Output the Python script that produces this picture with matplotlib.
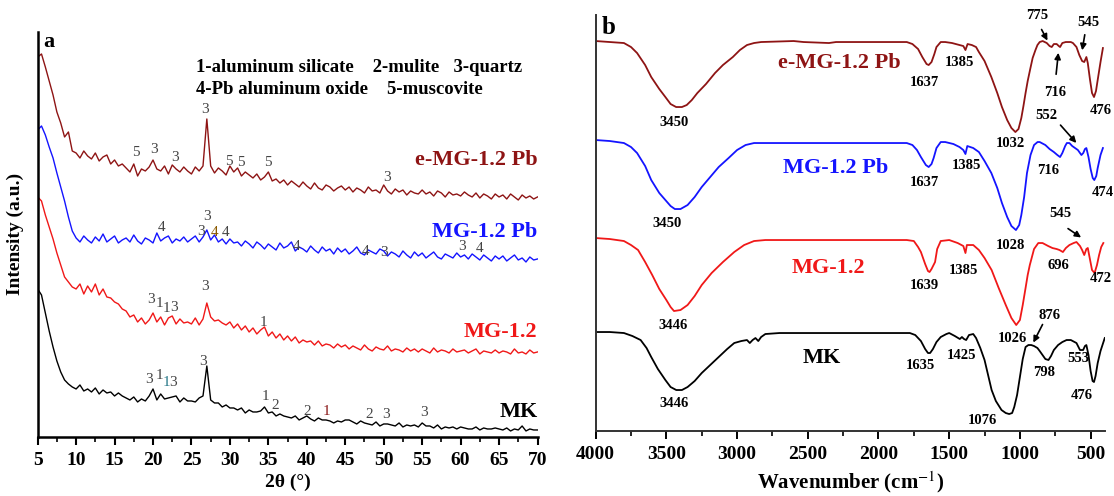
import numpy as np
import matplotlib
matplotlib.use('Agg')
import matplotlib.pyplot as plt

plt.rcParams['font.family'] = ['Liberation Serif', 'DejaVu Serif']
plt.rcParams['mathtext.fontset'] = 'stix'

# ---- XRD (panel a), 2theta from 5 to 70 in 0.5 deg steps ----
two_theta = np.arange(5.0, 70.01, 0.5)

xrd_emg = [380, 383, 370, 356, 342, 325, 314, 300, 305, 286,
           284, 279, 286, 281, 278, 284, 276, 280, 282, 273,
           277, 271, 273, 269, 265, 273, 261, 268, 266, 270,
           277, 268, 266, 271, 263, 272, 268, 265, 270, 266,
           263, 270, 266, 271, 318, 271, 264, 269, 266, 262,
           271, 265, 269, 261, 265, 262, 259, 263, 257, 260,
           265, 256, 258, 254, 257, 252, 256, 253, 250, 255,
           251, 248, 254, 249, 247, 252, 250, 246, 249, 251,
           247, 250, 245, 249, 247, 244, 250, 246, 247, 244,
           252, 246, 243, 248, 245, 247, 242, 246, 244, 243,
           247, 243, 245, 241, 246, 244, 240, 245, 242, 243,
           241, 245, 242, 240, 244, 239, 243, 241, 238, 243,
           240, 242, 238, 243, 240, 237, 242, 239, 241, 238,
           240]
xrd_mgpb = [307, 311, 302, 290, 279, 264, 250, 236, 220, 206,
            199, 195, 201, 197, 194, 200, 196, 203, 195, 198,
            201, 194, 197, 199, 195, 202, 196, 193, 199, 197,
            194, 204, 196, 199, 201, 194, 198, 196, 200, 195,
            198, 201, 195, 200, 207, 197, 202, 195, 198, 193,
            198, 194, 195, 191, 196, 193, 189, 195, 192, 188,
            193, 190, 187, 194, 189, 191, 195, 186, 190, 188,
            185, 191, 187, 184, 190, 186, 188, 183, 189, 185,
            188, 183, 186, 190, 184, 182, 187, 185, 183, 188,
            186, 181, 185, 183, 180, 186, 182, 179, 185, 181,
            184, 179, 182, 185, 180, 178, 183, 181, 179, 184,
            180, 182, 178, 183, 180, 177, 182, 179, 176, 181,
            178, 181, 176, 179, 182, 177, 179, 175, 180, 177,
            178]
xrd_mg = [240, 236, 222, 210, 198, 184, 172, 160, 155, 150,
          148, 153, 143, 151, 145, 153, 142, 148, 140, 139,
          135, 133, 128, 126, 120, 122, 115, 119, 113, 117,
          124, 115, 120, 112, 119, 121, 113, 118, 114, 115,
          113, 119, 112, 118, 134, 120, 116, 117, 114, 112,
          115, 109, 113, 107, 111, 105, 109, 103, 107, 110,
          101, 105, 99, 103, 97, 101, 96, 100, 94, 97,
          95, 96, 92, 96, 91, 93, 92, 89, 93, 90,
          92, 88, 91, 89, 87, 92, 88, 86, 90, 88,
          87, 91, 86, 88, 87, 85, 89, 86, 88, 85,
          88, 86, 84, 89, 85, 87, 86, 84, 88, 85,
          86, 87, 84, 86, 88, 83, 86, 85, 84, 87,
          84, 86, 85, 83, 88, 84, 85, 83, 87, 84,
          85]
xrd_mk = [148, 142, 124, 106, 90, 76, 65, 57, 53, 50,
          48, 52, 46, 48, 45, 49, 43, 47, 44, 45,
          41, 44, 41, 39, 37, 40, 35, 38, 36, 41,
          48, 37, 43, 38, 39, 40, 41, 35, 39, 36,
          36, 35, 39, 41, 71, 37, 34, 34, 30, 32,
          29, 29, 27, 29, 24, 27, 25, 25, 26, 30,
          24, 25, 21, 23, 21, 20, 19, 21, 17, 19,
          21, 18, 16, 19, 17, 17, 16, 14, 16, 15,
          17, 17, 15, 13, 16, 14, 13, 12, 15, 11,
          13, 13, 12, 11, 14, 10, 12, 11, 12, 10,
          14, 11, 11, 9, 12, 8, 10, 9, 10, 8,
          10, 9, 8, 8, 10, 7, 9, 8, 8, 9,
          8, 7, 9, 6, 8, 7, 11, 6, 8, 7,
          7]

xrd_names = ['e-MG-1.2 Pb', 'MG-1.2 Pb', 'MG-1.2', 'MK']
xrd_name_y = [277, 205, 105, 25]

# phase marks: (2theta, height, mark, colour)
grey = '#444444'
xrd_marks = [
    (17.8, 284, '5', grey), (20.1, 287, '3', grey), (22.9, 279, '3', grey),
    (26.8, 327, '3', grey), (29.9, 275, '5', grey), (31.4, 274, '5', grey),
    (34.9, 274, '5', grey), (50.4, 259, '3', grey),
    (21.1, 209, '4', grey), (26.2, 205, '3', grey), (27.0, 220, '3', grey),
    (28.0, 204, '4', '#8b5a00'), (29.5, 204, '4', grey), (38.7, 190, '4', grey),
    (47.7, 185, '4', grey), (50.1, 184, '3', grey), (60.2, 190, '3', grey),
    (62.5, 188, '4', grey),
    (19.7, 137, '3', grey), (20.85, 133, '1', grey), (21.75, 128, '1', grey),
    (22.75, 129, '3', grey), (26.7, 150, '3', grey), (34.4, 114, '1', grey),
    (19.5, 57, '3', grey), (20.8, 61, '1', grey), (21.7, 54, '1', '#2a7a8a'),
    (22.65, 54, '3', grey), (26.5, 75, '3', grey), (34.6, 40, '1', grey),
    (35.9, 31, '2', grey), (40.0, 25, '2', grey), (42.6, 25, '1', '#8b1a1a'),
    (48.1, 22, '2', grey), (50.3, 22, '3', grey), (55.2, 24, '3', grey),
]

# ---- FTIR (panel b) ----
wn_emg = [4000, 3900, 3800, 3750, 3707, 3650, 3607, 3550, 3507, 3470, 3431, 3390, 3356, 3320,
          3281, 3220, 3156, 3100, 3030, 2980, 2930, 2880, 2830, 2600, 2530, 2350, 2300, 2000,
          1800, 1760, 1720, 1690, 1660, 1645, 1625, 1605, 1590, 1560, 1528, 1480, 1427, 1400,
          1385, 1370, 1340, 1310, 1290, 1250, 1202, 1160, 1127, 1090, 1060, 1032, 1010, 990,
          975, 960, 945, 927, 910, 890, 876, 860, 839, 810, 790, 775, 760, 740, 725, 716,
          700, 676, 640, 625, 600, 580, 560, 545, 530, 520, 505, 490, 476, 462, 450, 430, 413]
ir_emg = [390, 389, 388, 384, 378, 366, 354, 342, 334, 327, 324, 324, 326, 331,
          338, 347, 358, 366, 374, 381, 386, 388, 389, 390, 389, 388, 389, 389,
          389, 387, 382, 374, 367, 366, 369, 377, 384, 389, 389, 388, 386, 385,
          381, 387, 386, 384, 379, 370, 354, 338, 324, 311, 303, 299, 302, 313,
          325, 338, 350, 362, 373, 381, 386, 389, 390, 388, 385, 384, 387, 387, 385, 384,
          388, 389, 389, 388, 384, 376, 370, 369, 374, 368, 352, 338, 334, 340, 351, 369, 383]

wn_mgpb = [4000, 3900, 3800, 3750, 3707, 3650, 3607, 3550, 3507, 3470, 3440, 3400, 3350, 3300,
           3250, 3190, 3130, 3060, 3000, 2940, 2880, 2000, 1800, 1760, 1728, 1700, 1665, 1645,
           1625, 1610, 1590, 1560, 1528, 1470, 1427, 1400, 1385, 1372, 1330, 1290, 1250, 1202,
           1160, 1127, 1090, 1060, 1028, 1005, 990, 970, 950, 925, 900, 875, 860, 820, 790,
           760, 735, 716, 700, 680, 668, 650, 630, 610, 590, 565, 552, 540, 530, 515, 500,
           485, 474, 460, 450, 430, 413]
ir_mgpb = [291, 290, 288, 284, 278, 265, 251, 238, 231, 225, 222, 222, 226, 234,
           244, 254, 264, 273, 281, 286, 288, 288, 288, 286, 281, 274, 266, 264,
           267, 273, 283, 289, 289, 287, 284, 281, 277, 285, 283, 279, 270, 258,
           243, 228, 214, 205, 201, 206, 216, 234, 258, 276, 286, 289, 289, 286, 282,
           279, 276, 274, 278, 285, 288, 288, 285, 283, 281, 276, 278, 282, 283, 274, 262,
           253, 251, 255, 263, 276, 283]

wn_mg = [4000, 3900, 3800, 3750, 3700, 3650, 3600, 3550, 3500, 3470, 3446, 3400, 3350, 3300,
         3250, 3180, 3100, 3020, 2950, 2880, 2800, 2000, 1800, 1750, 1720, 1700, 1670, 1650,
         1639, 1625, 1600, 1585, 1560, 1500, 1440, 1400, 1385, 1375, 1330, 1290, 1250, 1200,
         1150, 1100, 1060, 1026, 1000, 980, 960, 945, 930, 900, 870, 840, 800, 770, 740,
         720, 696, 675, 650, 620, 600, 575, 560, 545, 530, 520, 505, 490, 472, 455, 440,
         425, 410]
ir_mg = [193, 192, 190, 186, 181, 169, 156, 142, 131, 124, 120, 121, 126, 135,
         146, 158, 169, 179, 186, 190, 191, 191, 191, 190, 184, 179, 167, 160,
         159, 162, 169, 182, 190, 191, 188, 185, 178, 186, 186, 181, 173, 161,
         143, 126, 113, 106, 111, 126, 143, 156, 166, 182, 188, 188, 185, 183, 182,
         181, 179, 183, 186, 188, 189, 185, 181, 176, 182, 183, 172, 161, 158, 166, 176,
         184, 188]

wn_mk = [4000, 3900, 3800, 3740, 3682, 3640, 3607, 3560, 3507, 3470, 3430, 3390, 3350, 3300,
         3250, 3190, 3130, 3070, 3020, 2970, 2930, 2910, 2890, 2870, 2850, 2830, 2800, 2700,
         2000, 1778, 1740, 1700, 1670, 1650, 1635, 1615, 1590, 1560, 1520, 1500, 1460, 1425,
         1410, 1395, 1380, 1360, 1330, 1310, 1280, 1250, 1225, 1200, 1170, 1130, 1100, 1076,
         1055, 1040, 1020, 1000, 980, 960, 940, 920, 900, 876, 860, 840, 820, 798, 780,
         760, 730, 700, 670, 640, 600, 575, 553, 540, 530, 515, 500, 486, 476, 465, 450,
         430, 400]
ir_mk = [99, 99, 98, 95, 91, 83, 74, 62, 51, 44, 41, 41, 44, 50,
         58, 66, 74, 82, 88, 90, 91, 88, 91, 93, 90, 94, 97, 98,
         98, 98, 96, 90, 82, 78, 78, 82, 89, 94, 97, 98, 95, 92,
         94, 92, 91, 96, 97, 93, 83, 71, 56, 41, 30, 21, 18, 17,
         18, 24, 36, 54, 72, 84, 86, 86, 85, 83, 80, 76, 72, 71, 75,
         81, 86, 89, 91, 91, 88, 81, 81, 85, 86, 76, 60, 50, 49, 55, 68,
         80, 93]

ir_names = ['e-MG-1.2 Pb', 'MG-1.2 Pb', 'MG-1.2', 'MK']
ir_name_pos = [(2279, 368), (2304, 263), (2354, 163), (2404, 73)]

# band labels: (wavenumber, height, text)
ir_bands = [
    (1678, 349, '1637'), (1427, 369, '1385'), (3444, 309, '3450'), (1064, 288, '1032'),
    (876, 416, '775'), (513, 409, '545'), (751, 339, '716'), (425, 321, '476'),
    (3494, 208, '3450'), (1678, 249, '1637'), (1377, 266, '1385'), (1064, 186, '1028'),
    (801, 261, '716'), (814, 316, '552'), (413, 239, '474'), (713, 218, '545'),
    (1678, 146, '1639'), (1402, 161, '1385'), (3456, 106, '3446'), (1052, 93, '1026'),
    (726, 166, '696'), (425, 153, '472'), (789, 116, '876'),
    (1703, 66, '1635'), (1415, 76, '1425'), (3444, 28, '3446'), (1265, 11, '1076'),
    (826, 59, '798'), (588, 73, '553'), (563, 36, '476'),
]
# arrows: (tail wn, tail h, head wn, head h)
ir_arrows = [
    (856, 404, 796, 388), (538, 399, 563, 378), (746, 354, 726, 381),
    (726, 308, 588, 286), (676, 204, 551, 192), (831, 109, 914, 86),
]

colors = ['#8e1414', '#1414ff', '#f01818', '#000000']

fig = plt.figure(figsize=(11.14, 4.96), dpi=100)

# panel a
ax1 = fig.add_axes([0.0338, 0.1190, 0.4487, 0.8171])
for ys, c in zip([xrd_emg, xrd_mgpb, xrd_mg, xrd_mk], colors):
    ax1.plot(two_theta, ys, color=c, lw=1.0)
for name, yy, c in zip(xrd_names, xrd_name_y, colors):
    ax1.text(70, yy, name, color=c, fontsize=16, fontweight='bold', ha='right', va='center')
for x, y, s, c in xrd_marks:
    ax1.text(x, y, s, color=c, fontsize=11, ha='center', va='center')
ax1.text(0.316, 0.912, '1-aluminum silicate    2-mulite   3-quartz', transform=ax1.transAxes,
         fontsize=13.5, fontweight='bold', va='center')
ax1.text(0.316, 0.858, '4-Pb aluminum oxide    5-muscovite', transform=ax1.transAxes,
         fontsize=13.5, fontweight='bold', va='center')
ax1.text(0.012, 0.975, 'a', transform=ax1.transAxes, fontsize=16, fontweight='bold', va='center')
ax1.set_xlim(5, 70)
ax1.set_ylim(0, 405.3)
ax1.set_xticks(np.arange(5, 71, 5))
ax1.set_xticks(np.arange(7.5, 70, 5), minor=True)
ax1.set_yticks([])
ax1.spines['top'].set_visible(False)
ax1.spines['right'].set_visible(False)
for sp in ['left', 'bottom']:
    ax1.spines[sp].set_linewidth(1.8)
ax1.tick_params(axis='x', which='major', direction='out', length=6, width=1.5, labelsize=14, pad=5)
ax1.tick_params(axis='x', which='minor', direction='out', length=3.5, width=1.2)
for lab in ax1.get_xticklabels():
    lab.set_fontweight('bold')
ax1.set_xlabel('2θ (°)', fontsize=14, fontweight='bold', labelpad=3)
ax1.set_ylabel('Intensity (a.u.)', fontsize=14, fontweight='bold', labelpad=10)

# panel b
ax2 = fig.add_axes([0.5347, 0.1310, 0.4570, 0.8387])
for wn, ys, c in zip([wn_emg, wn_mgpb, wn_mg, wn_mk], [ir_emg, ir_mgpb, ir_mg, ir_mk], colors):
    ax2.plot(wn, ys, color=c, lw=1.3)
for name, (x, y), c in zip(ir_names, ir_name_pos, colors):
    ax2.text(x, y, name, color=c, fontsize=16, fontweight='bold', ha='center', va='center')
for x, y, s in ir_bands:
    ax2.text(x, y, s, fontsize=10.5, fontweight='bold', ha='center', va='center', clip_on=False)
for x0, y0, x1, y1 in ir_arrows:
    ax2.annotate('', xy=(x1, y1), xytext=(x0, y0),
                 arrowprops=dict(arrowstyle='-|>', color='black', lw=1.2, mutation_scale=9))
ax2.text(0.012, 0.97, 'b', transform=ax2.transAxes, fontsize=18, fontweight='bold', va='center')
ax2.set_xlim(4000, 400)
ax2.set_ylim(0, 416)
ax2.set_xticks(np.arange(4000, 499, -500))
ax2.set_xticks(np.arange(3750, 499, -500), minor=True)
ax2.set_yticks([])
ax2.spines['top'].set_visible(False)
ax2.spines['right'].set_visible(False)
for sp in ['left', 'bottom']:
    ax2.spines[sp].set_linewidth(1.4)
    ax2.spines[sp].set_color('#333333')
ax2.tick_params(axis='x', which='major', direction='out', length=6, width=1.4, labelsize=14, pad=5)
ax2.tick_params(axis='x', which='minor', direction='out', length=3.5, width=1.2)
for lab in ax2.get_xticklabels():
    lab.set_fontweight('bold')
ax2.set_xlabel('Wavenumber (cm$^{-1}$)', fontsize=15, fontweight='bold', labelpad=4)

plt.savefig('out.png', dpi=100)
